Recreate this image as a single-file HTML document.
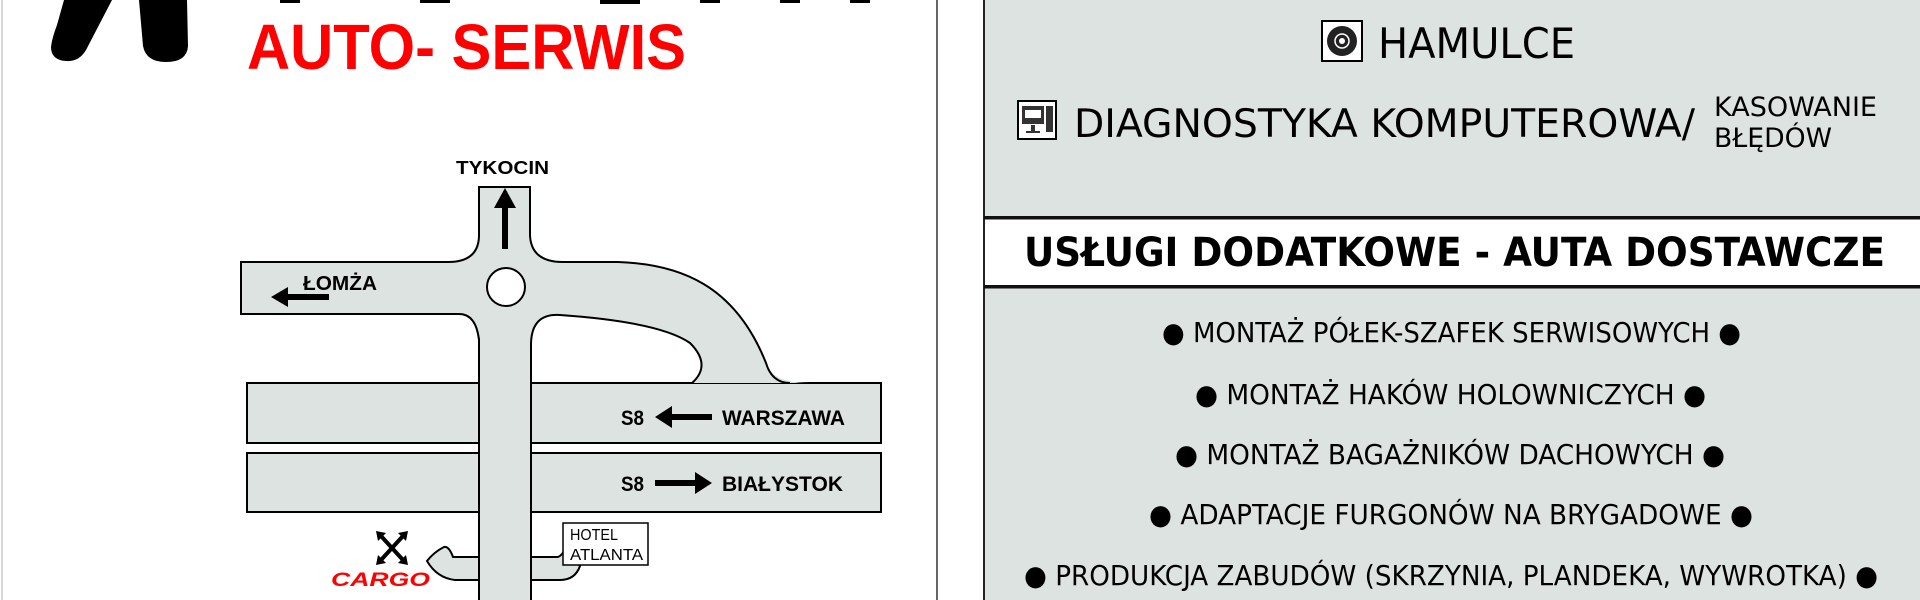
<!DOCTYPE html>
<html><head><meta charset="utf-8"><style>
html,body{margin:0;padding:0;background:#fff;}
svg{display:block;}
</style></head><body>
<svg width="1920" height="600" viewBox="0 0 1920 600" xmlns="http://www.w3.org/2000/svg">
<rect width="1920" height="600" fill="#fff"/>
<line x1="2" y1="0" x2="2" y2="600" stroke="#ccc" stroke-width="1.5"/>
<line x1="937" y1="0" x2="937" y2="600" stroke="#333" stroke-width="1.5"/>
<!-- logo -->
<path d="M64,0 L112,0 L86,50 Q79,62 66,61 Q51,60 51,47 Q52,38 57,25 Z" fill="#000"/>
<path d="M139,0 L187,0 L188,46 Q187,62 166,62 Q146,62 143,46 Z" fill="#000"/>
<rect x="280" y="0" width="20" height="3" fill="#000"/>
<rect x="420" y="0" width="30" height="3" fill="#000"/>
<rect x="600" y="0" width="40" height="4" fill="#000"/>
<rect x="700" y="0" width="20" height="3" fill="#000"/>
<rect x="780" y="0" width="20" height="3" fill="#000"/>
<rect x="850" y="0" width="20" height="3" fill="#000"/>
<text x="247" y="69" font-family="'Liberation Sans',sans-serif" font-weight="bold" font-size="64" fill="#f00" textLength="439" lengthAdjust="spacingAndGlyphs">AUTO- SERWIS</text>

<!-- map -->
<g stroke="#000" stroke-width="2" fill="#dde3e0">
<rect x="247" y="383" width="634" height="60"/>
<rect x="247" y="453" width="634" height="59"/>
</g>
<path d="M479,187 L530,187 L530,235 Q531,262 563,262 L618,262 C680,264 735,285 766,363 Q772,383 810,383 L692,383 Q712,365 690,343 Q660,322 560,315 Q531,313 531,345 L531,385 L479,385 L479,340 Q476,314 459,314 L241,314 L241,262 L448,262 Q479,262 479,235 Z" fill="#dde3e0"/>
<path d="M479,340 Q476,314 459,314 L241,314 L241,262 L448,262 Q479,262 479,235 L479,187 L530,187 L530,235 Q531,262 563,262 L618,262 C680,264 735,285 766,363 Q772,383 790,383" fill="none" stroke="#000" stroke-width="2"/>
<path d="M692,383 Q712,365 690,343 Q660,322 560,315 Q531,313 531,345" fill="none" stroke="#000" stroke-width="2"/>
<!-- stubs -->
<path d="M479,557 L453,557 Q449,546 444,547 Q434,552 427,561 Q437,578 455,580 L479,580 Z" fill="#dde3e0" stroke="#000" stroke-width="2"/>
<path d="M531,557 L558,557 Q563,555 565,548 L580,566 Q575,580 560,580 L531,580 Z" fill="#dde3e0" stroke="#000" stroke-width="2"/>
<rect x="480" y="340" width="50" height="262" fill="#dde3e0"/>
<line x1="479" y1="338" x2="479" y2="600" stroke="#000" stroke-width="2"/>
<line x1="531" y1="343" x2="531" y2="600" stroke="#000" stroke-width="2"/>
<ellipse cx="506" cy="287" rx="19" ry="19" fill="#fff" stroke="#000" stroke-width="2"/>
<!-- arrows -->
<g fill="#000">
<rect x="502" y="205" width="6" height="44"/>
<polygon points="494,208 505,188 516,208"/>
<rect x="285" y="294" width="44" height="6"/>
<polygon points="288,287 271,297 288,307"/>
<rect x="670" y="414" width="42" height="6"/>
<polygon points="672,406 655,417 672,428"/>
<rect x="655" y="480" width="42" height="6"/>
<polygon points="695,472 712,483 695,494"/>
</g>
<g font-family="'Liberation Sans',sans-serif" font-weight="bold" fill="#000">
<text x="456" y="174" font-size="18" textLength="93" lengthAdjust="spacingAndGlyphs">TYKOCIN</text>
<text x="303" y="290" font-size="20" textLength="74" lengthAdjust="spacingAndGlyphs">ŁOMŻA</text>
<text x="621" y="425" font-size="21" textLength="23" lengthAdjust="spacingAndGlyphs">S8</text>
<text x="722" y="425" font-size="21" textLength="123" lengthAdjust="spacingAndGlyphs">WARSZAWA</text>
<text x="621" y="491" font-size="21" textLength="23" lengthAdjust="spacingAndGlyphs">S8</text>
<text x="722" y="491" font-size="21" textLength="121" lengthAdjust="spacingAndGlyphs">BIAŁYSTOK</text>
</g>
<rect x="563" y="523" width="85" height="42" fill="#fff" stroke="#000" stroke-width="1.5"/>
<g font-family="'Liberation Sans',sans-serif" font-size="16" fill="#000">
<text x="570" y="540" textLength="48" lengthAdjust="spacingAndGlyphs">HOTEL</text>
<text x="570" y="560" textLength="73" lengthAdjust="spacingAndGlyphs">ATLANTA</text>
</g>
<g stroke="#000" stroke-width="4">
<line x1="381" y1="536" x2="403" y2="560"/>
<line x1="403" y1="536" x2="381" y2="560"/>
</g>
<g fill="#000">
<polygon points="376,531 386,533 378,541"/>
<polygon points="408,531 398,533 406,541"/>
<polygon points="376,565 386,563 378,555"/>
<polygon points="408,565 398,563 406,555"/>
</g>
<text x="331" y="586" font-family="'Liberation Sans',sans-serif" font-weight="bold" font-style="italic" font-size="19" fill="#f00" textLength="99" lengthAdjust="spacingAndGlyphs">CARGO</text>

<!-- right panel -->
<rect x="984" y="0" width="936" height="600" fill="#dde3e0"/>
<line x1="984" y1="0" x2="984" y2="600" stroke="#222" stroke-width="2"/>
<rect x="984" y="216" width="936" height="3.5" fill="#111"/>
<rect x="985" y="219.5" width="935" height="65.5" fill="#fff"/>
<rect x="984" y="285" width="936" height="3.5" fill="#111"/>
<!-- icons -->
<rect x="1322" y="21" width="40" height="40" fill="#fff" stroke="#000" stroke-width="2"/>
<circle cx="1342" cy="41" r="15" fill="#222"/>
<circle cx="1342" cy="41" r="7" fill="none" stroke="#fff" stroke-width="1.5"/>
<circle cx="1342" cy="41" r="3" fill="#fff"/>
<rect x="1018" y="101" width="38" height="38" fill="#fff" stroke="#000" stroke-width="2"/>
<rect x="1022" y="106" width="22" height="18" fill="#333"/>
<rect x="1025" y="110" width="16" height="8" fill="#fff"/>
<rect x="1046" y="106" width="7" height="26" fill="#333"/>
<rect x="1031" y="125" width="4" height="6" fill="#333"/>
<rect x="1026" y="131" width="14" height="2" fill="#333"/>
<g font-family="'DejaVu Sans Condensed','DejaVu Sans',sans-serif" fill="#000">
<text x="1378" y="58" font-size="42" textLength="197" lengthAdjust="spacingAndGlyphs">HAMULCE</text>
<text x="1074" y="137" font-size="39" textLength="621" lengthAdjust="spacingAndGlyphs">DIAGNOSTYKA KOMPUTEROWA/</text>
<text x="1714" y="116" font-size="27" textLength="163" lengthAdjust="spacingAndGlyphs">KASOWANIE</text>
<text x="1714" y="147" font-size="27" textLength="118" lengthAdjust="spacingAndGlyphs">BŁĘDÓW</text>
<text x="1024" y="266" font-size="40" font-weight="bold" textLength="861" lengthAdjust="spacingAndGlyphs">USŁUGI DODATKOWE - AUTA DOSTAWCZE</text>
<text x="1162" y="342" font-size="28" textLength="579" lengthAdjust="spacingAndGlyphs">● MONTAŻ PÓŁEK-SZAFEK SERWISOWYCH ●</text>
<text x="1195" y="404" font-size="28" textLength="511" lengthAdjust="spacingAndGlyphs">● MONTAŻ HAKÓW HOLOWNICZYCH ●</text>
<text x="1175" y="464" font-size="28" textLength="550" lengthAdjust="spacingAndGlyphs">● MONTAŻ BAGAŻNIKÓW DACHOWYCH ●</text>
<text x="1149" y="524" font-size="28" textLength="604" lengthAdjust="spacingAndGlyphs">● ADAPTACJE FURGONÓW NA BRYGADOWE ●</text>
<text x="1024" y="585" font-size="28" textLength="854" lengthAdjust="spacingAndGlyphs">● PRODUKCJA ZABUDÓW (SKRZYNIA, PLANDEKA, WYWROTKA) ●</text>
</g>
</svg>
</body></html>
